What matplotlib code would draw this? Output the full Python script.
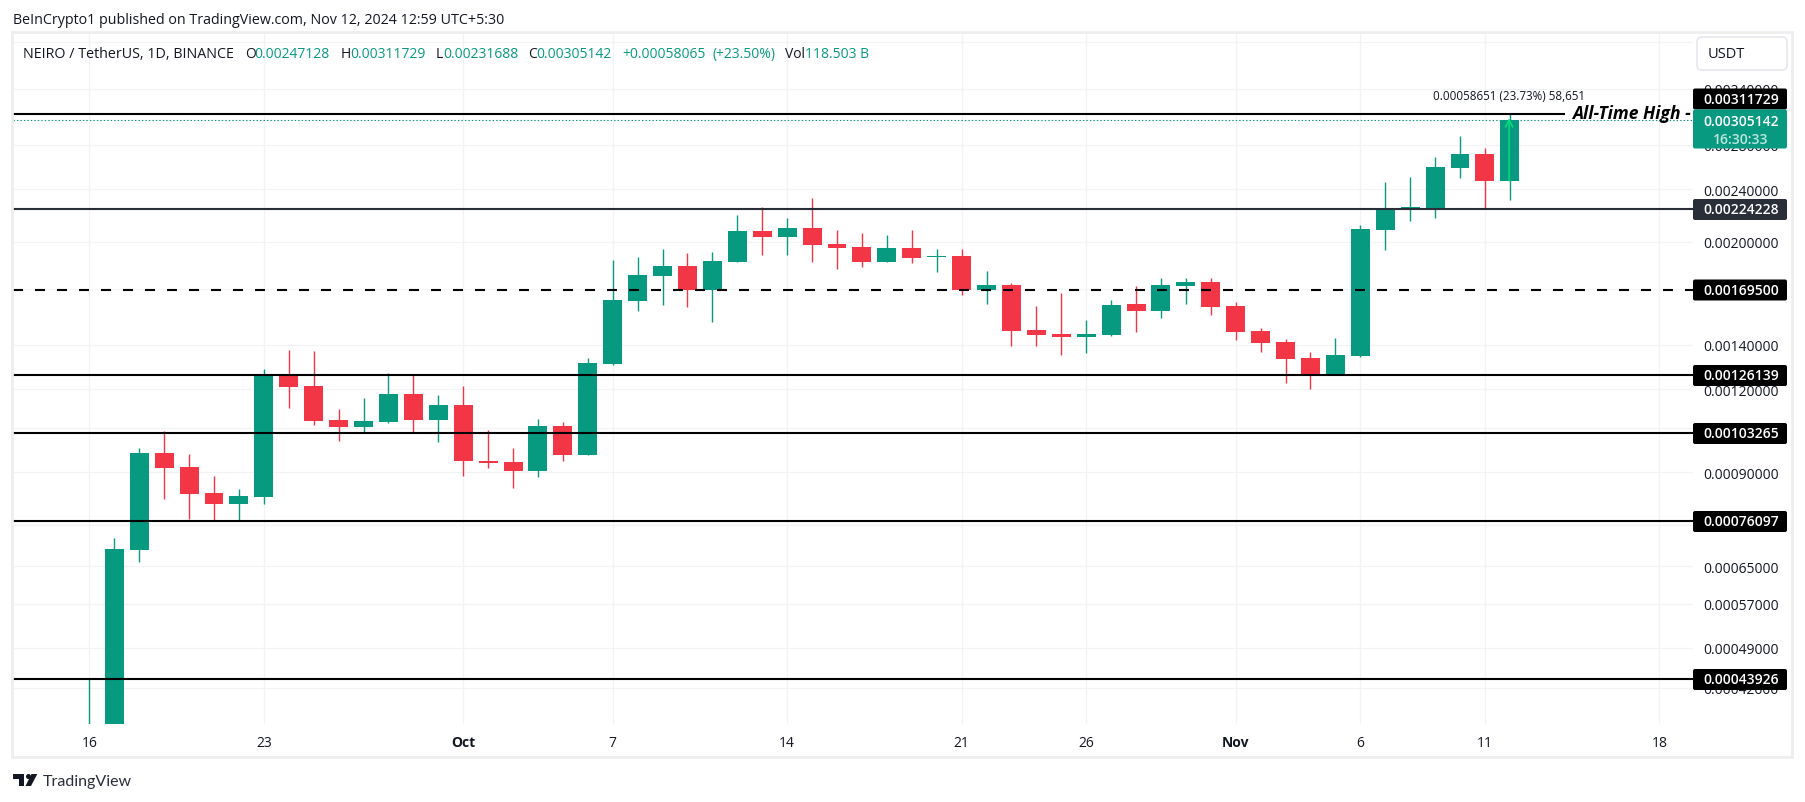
import numpy as np
import matplotlib
matplotlib.use("Agg")
import matplotlib.pyplot as plt
from matplotlib.patches import FancyBboxPatch, Rectangle, Polygon, Circle

plt.rcParams['font.family'] = ['Open Sans', 'DejaVu Sans']
plt.rcParams['lines.scale_dashes'] = False

# Daily candles from Sep 16, prices in units of 0.001 USDT
day = list(range(58))
opens = [0.34,0.35,0.6871,0.9620,0.9163,0.8373,0.8060,0.8258,1.2614,1.2135,1.0786,1.0528,1.0712,1.1804,1.0786,1.1363,
         0.9357,0.9325,0.9038,1.0565,0.9554,1.3098,1.6297,1.7775,1.8400,1.6950,1.8657,2.0775,2.0349,2.0990,1.9860,
         1.9655,1.8657,1.9587,1.8985,1.9051,1.6950,1.7226,1.4738,1.4535,1.4385,1.4485,1.6129,1.5741,1.7167,1.7407,
         1.6017,1.4687,1.4137,1.3374,1.2614,1.3467,2.0847,2.2423,2.2423,2.5850,2.7135,2.47128]
highs = [0.43926,0.7156,0.9788,1.0382,0.9587,0.8882,0.8490,1.2873,1.3750,1.3702,1.1206,1.1642,1.2695,1.2614,1.1763,1.2135,
         1.0418,0.9788,1.0823,1.0712,1.3374,1.8787,1.8985,1.9518,1.9250,1.9316,2.1960,2.2580,2.1730,2.3290,2.0847,
         2.0630,2.0490,2.0847,1.9518,1.9518,1.8084,1.7347,1.6017,1.6756,1.5258,1.6354,1.7167,1.7650,1.7650,1.7650,
         1.6241,1.4843,1.4285,1.3655,1.4335,2.1210,2.4620,2.5054,2.6854,2.8880,2.7700,3.11729]
lows = [0.33,0.33,0.6591,0.8201,0.7651,0.7625,0.7625,0.8060,1.1244,1.0601,1.0028,1.0346,1.0675,1.0327,0.9993,0.8882,
        0.9132,0.8520,0.8852,0.9357,0.9554,1.3053,1.5741,1.6073,1.5962,1.5152,1.8657,1.9117,1.9117,1.8657,1.8210,
        1.8336,1.8657,1.8592,1.8022,1.6640,1.6129,1.3942,1.3942,1.3514,1.3608,1.4435,1.4636,1.5364,1.6129,1.5525,
        1.4235,1.3655,1.2263,1.2010,1.2614,1.3421,1.9450,2.1508,2.1730,2.4968,2.2423,2.31688]
closes = [0.36,0.6895,0.9620,0.9132,0.8344,0.8060,0.8286,1.2614,1.2093,1.0749,1.0528,1.0749,1.1804,1.0786,1.1363,0.9357,
          0.9293,0.9038,1.0565,0.9554,1.3144,1.6354,1.7836,1.8400,1.6950,1.8722,2.0775,2.0349,2.0990,1.9791,1.9587,
          1.8657,1.9587,1.8918,1.9051,1.6950,1.7226,1.4687,1.4485,1.4385,1.4535,1.6073,1.5741,1.7226,1.7407,1.5962,
          1.4636,1.4088,1.3327,1.2651,1.3514,2.0920,2.2423,2.2580,2.5939,2.7135,2.4713,3.05142]

price_ticks = [0.004,0.0034,0.0028,0.0024,0.0020,0.0017,0.0014,0.0012,0.00105,0.0009,0.00075,0.00065,0.00057,0.00049,0.000426]
date_ticks = [0,7,15,21,28,35,40,46,51,56,63]
date_labels = ['16','23','Oct','7','14','21','26','Nov','6','11','18']
solid_levels = [0.00126139,0.00103265,0.00076097,0.00043926]
ath_level = 0.00311729
mid_level = 0.00224228
dash_level = 0.00169500
last_close = 0.00305142

TEAL = '#089981'
RED = '#f23645'
INK = '#131722'
GRID = '#f2f3f5'

fig = plt.figure(figsize=(18.05, 8.03), dpi=100, facecolor='white')
ax = fig.add_axes([13/1805, 1-725/803, 1680/1805, 691/803])
ax.set_yscale('log')
ax.set_xlim(-3.066, 64.35)
ax.set_ylim(0.000376, 0.004127)
for s in ax.spines.values():
    s.set_visible(False)
ax.yaxis.set_minor_locator(matplotlib.ticker.NullLocator())
ax.yaxis.tick_right()
ax.set_yticks(price_ticks, [f'{v:.8f}' for v in price_ticks])
ax.set_xticks(date_ticks, date_labels)
ax.tick_params(axis='y', length=0, pad=7.2, labelsize=10, labelcolor=INK)
ax.tick_params(axis='x', length=0, pad=7.8, labelsize=10, labelcolor=INK)
for lab in ax.get_xticklabels():
    if lab.get_text() in ('Oct', 'Nov'):
        lab.set_fontweight('bold')
ax.grid(True, color=GRID, lw=0.9, zorder=0)
ax.set_axisbelow(True)

o, h, l, c = [np.array(a) * 1e-3 for a in (opens, highs, lows, closes)]
d = np.array(day)
up = c >= o
cols = np.where(up, TEAL, RED)
ax.vlines(d, l, h, colors=cols, lw=1.0, zorder=2)
ax.bar(d, np.abs(c - o), bottom=np.minimum(o, c), width=0.76, color=cols, lw=0, zorder=3)

# levels
ax.hlines(solid_levels, -3.066, 64.35, colors='black', lw=1.5, zorder=4)
ax.hlines(ath_level, -3.066, 59.2, colors='black', lw=1.5, zorder=4)
ax.hlines(mid_level, -3.066, 64.35, colors='#2a2e39', lw=1.5, zorder=4)
ax.plot([-3.066, 64.35], [dash_level]*2, color='black', lw=1.5, ls=(0, (7.2, 8.64)),
        dash_capstyle='butt', zorder=4)
ax.plot([-3.066, 64.35], [last_close]*2, color=TEAL, lw=0.8, ls=(0, (1, 1.5)), zorder=2.5)

# measuring arrow
ax.annotate('', xy=(56.97, ath_level*0.985), xytext=(56.97, o[-1]),
            arrowprops=dict(arrowstyle='->', color='#00e676', lw=1.0, mutation_scale=13,
                            shrinkA=0, shrinkB=0), zorder=5)

# overlay in pixel coordinates
ov = fig.add_axes([0, 0, 1, 1], facecolor='none')
ov.set_xlim(0, 1805)
ov.set_ylim(803, 0)
ov.axis('off')

ov.add_patch(Rectangle((12, 33), 1780, 725, fc='none', ec='#eeeeee', lw=2))

def box(y0, y1, col):
    ov.add_patch(FancyBboxPatch((1695, y0+2), 90, y1-y0-4, boxstyle='round,pad=2,rounding_size=2',
                                fc=col, ec='none', zorder=6))

def val(y, s, col='white'):
    ov.text(1741, y, s, color=col, fontsize=10, ha='center', va='center', zorder=7, fontweight='semibold')

for lev, y, col in [(ath_level, 100, 'black'), (mid_level, 210.5, '#2a2e39'), (dash_level, 291, 'black'),
                    (solid_levels[0], 376.5, 'black'), (solid_levels[1], 434.5, 'black'),
                    (solid_levels[2], 522.5, 'black'), (solid_levels[3], 680.5, 'black')]:
    box(y-10.5, y+10.5, col)
    val(y, f'{lev:.8f}')
box(110.5, 149.5, TEAL)
val(121.5, f'{last_close:.8f}')
val(139.5, '16:30:33', '#bfe6df')

ov.add_patch(FancyBboxPatch((1699, 40), 86, 29, boxstyle='round,pad=2,rounding_size=5',
                            fc='white', ec='#e6e8ee', lw=1.2, zorder=6))
ov.text(1708, 54.5, 'USDT', color=INK, fontsize=10.5, va='center', zorder=7)

ov.text(1572, 114, 'All-Time High -', fontsize=12.6, fontweight='bold', style='italic', color='black',
        va='center', ha='left', zorder=5, family='Open Sans')
ov.text(1508.7, 96, '0.00058651 (23.73%) 58,651', fontsize=8.4, color=INK, ha='center', va='center', zorder=5)

# header
ov.text(13, 20.5, 'BeInCrypto1 published on TradingView.com, Nov 12, 2024 12:59 UTC+5:30', fontsize=10.3, color=INK, va='center')
ov.text(23, 54.5, 'NEIRO / TetherUS, 1D, BINANCE', fontsize=10.3, color=INK, va='center', zorder=5)
legend = [(245, 'O', INK), (254.5, '0.00247128', TEAL),
          (340.7, 'H', INK), (350, '0.00311729', TEAL), (435.7, 'L', INK), (443, '0.00231688', TEAL),
          (528, 'C', INK), (536.7, '0.00305142', TEAL), (622.7, '+0.00058065', TEAL), (712.7, '(+23.50%)', TEAL),
          (785, 'Vol', INK), (805, '118.503 B', TEAL)]
for x, s, col in legend:
    ov.text(x, 54.5, s, fontsize=10, color=col, va='center', zorder=5)

# footer logo
ov.add_patch(Polygon([(13, 775), (24, 775), (24, 787), (19, 787), (19, 780), (13, 780)], fc='#131722', ec='none'))
ov.add_patch(Circle((28.5, 777.5), 2.5, fc='#131722', ec='none'))
ov.add_patch(Polygon([(25.5, 787), (31.5, 775), (37.3, 775), (31, 787)], fc='#131722', ec='none'))
ov.text(43, 782, 'TradingView', fontsize=11.5, color='#2a2e39', va='center', family='Lato')

fig.savefig('out.png', dpi=100)
